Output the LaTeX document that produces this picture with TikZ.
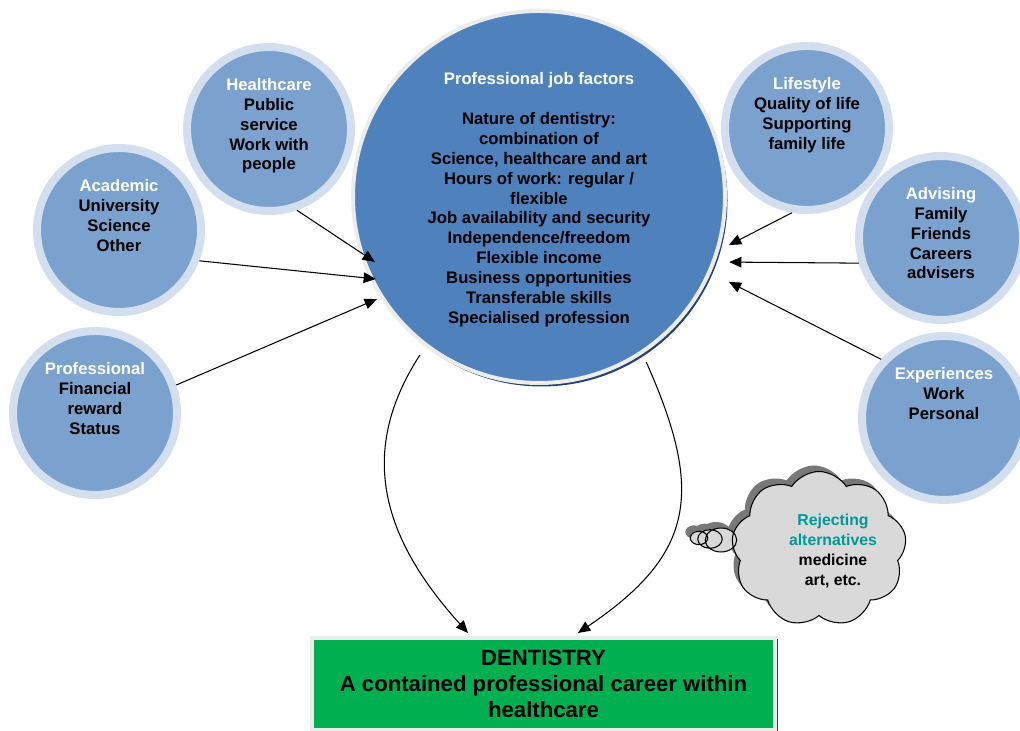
\documentclass[tikz,border=0pt]{standalone}
\usepackage{fontspec}
\setmainfont{Liberation Sans}
\usetikzlibrary{arrows.meta,positioning,calc,shadows,shapes.callouts}
\definecolor{dnblue}{RGB}{79,129,189}
\definecolor{dnsoft}{RGB}{123,161,206}
\definecolor{dnring}{RGB}{211,222,239}
\definecolor{dnrim}{RGB}{236,236,236}
\definecolor{dnnavy}{RGB}{38,64,110}
\definecolor{dngreen}{RGB}{0,176,80}
\definecolor{dncloud}{RGB}{217,217,217}
\definecolor{dnshade}{RGB}{120,120,120}
\definecolor{dnteal}{RGB}{0,153,153}

\begin{document}
\begin{tikzpicture}[>={Triangle[length=7pt,width=6pt]},
  factor/.style={circle,fill=dnsoft,draw=dnring,line width=0.16cm,minimum size=3.28cm,inner sep=0},
  factortxt/.style={align=center,inner sep=0,font=\fontsize{9.5}{11.3}\selectfont\bfseries},
  link/.style={->,line width=0.6pt}]
  \clip (0,0) rectangle (20.4,14.62);
  % central circle
  \node[circle,fill=dnblue,draw=dnrim,line width=0.08cm,minimum size=7.44cm,inner sep=0,
    drop shadow={shadow xshift=0.05cm,shadow yshift=-0.07cm,fill=dnnavy,opacity=1}] (main) at (10.78,10.68) {};
  \node[factortxt,below=1.27cm of main.north] (main-t) {\textcolor{white}{Professional job factors}\\[11.3pt]
    Nature of dentistry:\\combination of\\Science, healthcare and art\\Hours of work: regular /\\flexible\\
    Job availability and security\\Independence/freedom\\Flexible income\\Business opportunities\\
    Transferable skills\\Specialised profession};
  % left factors
  \node[factor] (health) at (5.38,12.04) {};
  \node[factortxt,below=0.7cm of health.north] (health-t) {\textcolor{white}{Healthcare}\\Public\\service\\Work with\\people};
  \node[factor] (acad) at (2.38,10.02) {};
  \node[factortxt,below=0.7cm of acad.north] (acad-t) {\textcolor{white}{Academic}\\University\\Science\\Other};
  \node[factor] (prof) at (1.90,6.36) {};
  \node[factortxt,below=0.7cm of prof.north] (prof-t) {\textcolor{white}{Professional}\\Financial\\reward\\Status};
  % right factors
  \node[factor] (life) at (16.14,12.06) {};
  \node[factortxt,below=0.7cm of life.north] (life-t) {\textcolor{white}{Lifestyle}\\Quality of life\\Supporting\\family life};
  \node[factor] (adv) at (18.82,9.86) {};
  \node[factortxt,below=0.7cm of adv.north] (adv-t) {\textcolor{white}{Advising}\\Family\\Friends\\Careers\\advisers};
  \node[factor] (exp) at (18.88,6.26) {};
  \node[factortxt,below=0.7cm of exp.north] (exp-t) {\textcolor{white}{Experiences}\\Work\\Personal};
  % outcome
  \node[rectangle,fill=dngreen,draw=dnrim,line width=0.08cm,minimum width=9.26cm,minimum height=1.84cm,
    inner sep=0,align=center,font=\fontsize{12.6}{15}\selectfont\bfseries,
    drop shadow={shadow xshift=0.05cm,shadow yshift=-0.03cm,fill=dnnavy,opacity=1}] (dent) at (10.87,0.94)
    {DENTISTRY\\A contained professional career within\\healthcare};
  % thought cloud
  \node[cloud callout,cloud puffs=9,cloud puff arc=115,aspect=1.1,minimum width=3.5cm,minimum height=3.1cm,
    fill=dncloud,draw=black,line width=0.6pt,callout absolute pointer={(13.98,3.86)},
    callout pointer segments=3,callout pointer start size=.22 of callout,callout pointer end size=.1 of callout,
    drop shadow={shadow xshift=-0.1cm,shadow yshift=0.12cm,fill=dnshade,opacity=1}] (cloud) at (16.38,3.64) {};
  \node[factortxt,font=\fontsize{9}{11.3}\selectfont\bfseries] (cloud-t) at (16.66,3.6)
    {\textcolor{dnteal}{Rejecting}\\\textcolor{dnteal}{alternatives}\\medicine\\art, etc.};
  % arrows into the centre
  \draw[link] (health.-71) -- ($(main.center)+(201.6:3.53)$);
  \draw[link] (acad.-21) -- ($(main.center)+(206.7:3.65)$);
  \draw[link] (prof.19) -- ($(main.center)+(212.2:3.83)$);
  \draw[link] (life.260) -- ($(main.center)+(-14.2:3.92)$);
  \draw[link] (adv.197) -- ($(main.center)+(-18.9:4.02)$);
  \draw[link] (exp.137) -- ($(main.center)+(-24.1:4.16)$);
  % arrows down to the outcome
  \draw[link] ($(main.center)+(233:3.96)$) to[out=237,in=132,looseness=1.1] ($(dent.north)+(-1.51,0.06)$);
  \draw[link] ($(main.center)+(-57:3.94)$) to[out=-66,in=34,looseness=1.3] ($(dent.north)+(0.69,0.06)$);
\end{tikzpicture}
\end{document}
